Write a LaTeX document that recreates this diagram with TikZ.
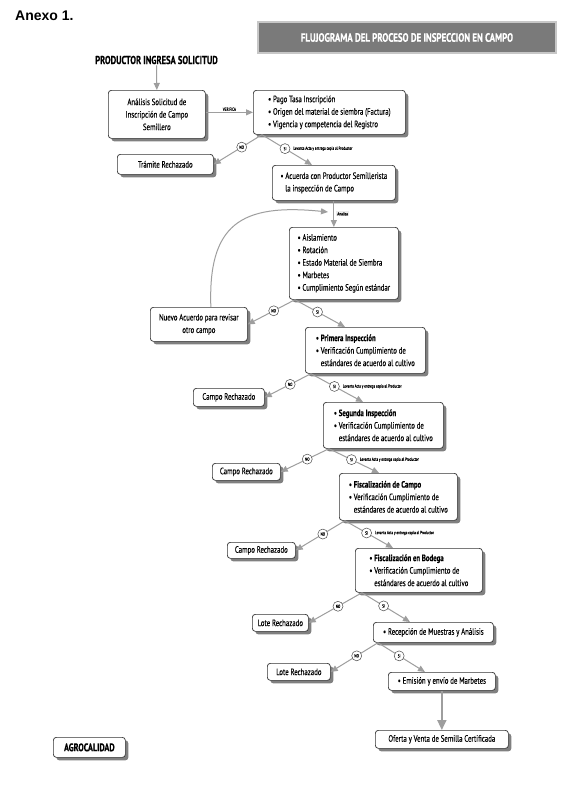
\documentclass[tikz,border=0pt]{standalone}
\usepackage{fontspec}
\usetikzlibrary{arrows.meta}
\newfontfamily\cf{PT Sans}[FakeStretch=0.74, UprightFeatures={FakeBold=0.15}, BoldFeatures={FakeBold=0.4}]
\newfontfamily\arialf{Liberation Sans}
\newcommand{\boxfnt}{\cf\fontsize{9.2}{12.5}\selectfont}
\newcommand{\tinyfnt}{\cf\fontsize{4.5}{5}\selectfont}
\newcommand{\hdrfnt}{\cf\bfseries\fontsize{12}{14}\selectfont}
\newcommand{\bulit}{\textbullet\ }
\newcommand{\hangind}{\hphantom{\textbullet\ }}
\tikzset{
  box/.style={draw=black!80, line width=0.7pt, rounded corners=3pt, fill=white,
    preaction={draw=none, fill=black!50, transform canvas={xshift=3pt, yshift=-3pt}},
    font=\boxfnt, inner xsep=3pt, inner ysep=1pt, anchor=north west},
  arr/.style={draw=black!38, line width=1pt, -{Triangle[length=7pt,width=6pt]}},
  circ/.style={circle, draw=black!70, fill=white, line width=0.5pt, inner sep=0pt,
    minimum size=10pt, font=\tinyfnt},
  note/.style={font=\tinyfnt, anchor=west, inner sep=1pt},
}
\begin{document}
\begin{tikzpicture}[x=1pt,y=-1pt]
\useasboundingbox[fill=white] (0,0) rectangle (578,804);

\node[anchor=west, font=\arialf\bfseries\fontsize{14}{16}\selectfont, inner sep=0pt] (anexo) at (15,16) {Anexo 1.};

\node[fill=black!52, draw=black!22, line width=1.2pt, minimum width=298pt, minimum height=31pt,
  text=white, font=\hdrfnt] (hdr) at (407,37.5) {FLUJOGRAMA DEL PROCESO DE INSPECCION EN CAMPO};

\node[font=\cf\bfseries\fontsize{11.5}{13}\selectfont, inner sep=1pt] (prod) at (156.5,60) {PRODUCTOR INGRESA SOLICITUD};

% boxes
\node[box, minimum width=97pt, minimum height=48pt, align=center] (b1) at (108,90)
  {Análisis Solicitud de\\Inscripción de Campo\\Semillero};
\node[box, minimum width=152pt, minimum height=44pt, align=left] (b2) at (253,90)
  {\bulit Pago Tasa Inscripción\\\bulit Origen del material de siembra (Factura)\\\bulit Vigencia y competencia del Registro};
\node[box, minimum width=96pt, minimum height=20pt] (rej1) at (117,154) {Trámite Rechazado};
\node[box, minimum width=123pt, minimum height=35pt, align=left] (b3) at (272,165)
  {\bulit Acuerda con Productor Semillerista\\\hangind la inspección de Campo};
\node[box, minimum width=109pt, minimum height=72pt, align=left] (b4) at (289,227)
  {\bulit Aislamiento\\\bulit Rotación\\\bulit Estado Material de Siembra\\\bulit Marbetes\\\bulit Cumplimiento Según estándar};
\node[box, minimum width=97pt, minimum height=34pt, align=center] (nuevo) at (150,307)
  {Nuevo Acuerdo para revisar\\otro campo};
\node[box, minimum width=120pt, minimum height=46pt, align=left] (b5) at (305,327)
  {\bulit\textbf{Primera Inspección}\\\bulit Verificación Cumplimiento de\\\hangind estándares de acuerdo al cultivo};
\node[box, minimum width=71pt, minimum height=18pt] (rej2) at (193,388) {Campo Rechazado};
\node[box, minimum width=120pt, minimum height=46pt, align=left] (b6) at (323,402)
  {\bulit\textbf{Segunda Inspección}\\\bulit Verificación Cumplimiento de\\\hangind estándares de acuerdo al cultivo};
\node[box, minimum width=68pt, minimum height=17pt] (rej3) at (212,463) {Campo Rechazado};
\node[box, minimum width=118pt, minimum height=47pt, align=left] (b7) at (339,473)
  {\bulit\textbf{Fiscalización de Campo}\\\bulit Verificación Cumplimiento de\\\hangind estándares de acuerdo al cultivo};
\node[box, minimum width=68pt, minimum height=16pt] (rej4) at (227,542) {Campo Rechazado};
\node[box, minimum width=127pt, minimum height=44pt, align=left] (b8) at (355,548)
  {\bulit\textbf{Fiscalización en Bodega}\\\bulit Verificación Cumplimiento de\\\hangind estándares de acuerdo al cultivo};
\node[box, minimum width=56pt, minimum height=17pt] (rej5) at (252,614) {Lote Rechazado};
\node[box, minimum width=120pt, minimum height=20pt] (b9) at (373,622) {\bulit Recepción de Muestras y Análisis};
\node[box, minimum width=63pt, minimum height=17pt] (rej6) at (267,663) {Lote Rechazado};
\node[box, minimum width=107pt, minimum height=18pt] (b10) at (388,672) {\bulit Emisión y envío de Marbetes};
\node[box, minimum width=133pt, minimum height=18pt] (b11) at (375,730) {Oferta y Venta de Semilla Certificada};
\node[box, minimum width=72pt, minimum height=20pt, font=\cf\bfseries\fontsize{11}{12}\selectfont] (agro) at (53,737) {AGROCALIDAD};

% connectors
\draw[arr] (prod.south) -- (b1.north);
\draw[arr] (b1.east |- b2.west) -- (b2.west) node[midway, above=0pt, font=\tinyfnt, inner sep=1pt] {VERIFICA};

\draw[arr] ([xshift=9pt]b2.south west) -- (rej1.east) node[circ,pos=0.42] {NO};
\draw[arr] ([xshift=9pt]b2.south west) -- ([xshift=40pt]b3.north west) node[circ,pos=0.46] (s1) {SI};
\node[note] at ([xshift=2pt]s1.east) {Levanta Acta y entrega copia al Productor};

\draw[arr] (b3.south) -- (b3.south |- b4.north) node[midway, right=2pt, font=\tinyfnt, fill=black!8, inner sep=1pt] {Analiza};
\coordinate (loopend) at (328,212);
\draw[arr] ([xshift=12pt]nuevo.north) .. controls (208,225) and (240,203) .. (loopend);

\draw[arr] ([xshift=6pt]b4.south west) -- (nuevo.east) node[circ,pos=0.45] {NO};
\draw[arr] ([xshift=6pt]b4.south west) -- ([xshift=40pt]b5.north west) node[circ,pos=0.45] {SI};

\draw[arr] ([xshift=6pt]b5.south west) -- (rej2.east) node[circ,pos=0.45] {NO};
\draw[arr] ([xshift=6pt]b5.south west) -- ([xshift=40pt]b6.north west) node[circ,pos=0.45] (s3) {SI};
\node[note] at ([xshift=2pt]s3.east) {Levanta Acta y entrega copia al Productor};

\draw[arr] ([xshift=6pt]b6.south west) -- (rej3.east) node[circ,pos=0.45] {NO};
\draw[arr] ([xshift=6pt]b6.south west) -- ([xshift=40pt]b7.north west) node[circ,pos=0.45] (s4) {SI};
\node[note] at ([xshift=2pt]s4.east) {Levanta Acta y entrega copia al Productor};

\draw[arr] ([xshift=6pt]b7.south west) -- (rej4.east) node[circ,pos=0.45] {NO};
\draw[arr] ([xshift=6pt]b7.south west) -- ([xshift=38pt]b8.north west) node[circ,pos=0.45] (s5) {SI};
\node[note] at ([xshift=2pt]s5.east) {Levanta Acta y entrega copia al Productor};

\draw[arr] ([xshift=7pt]b8.south west) -- (rej5.east) node[circ,pos=0.45] {NO};
\draw[arr] ([xshift=7pt]b8.south west) -- ([xshift=37pt]b9.north west) node[circ,pos=0.45] {SI};

\draw[arr] ([xshift=5pt]b9.south west) -- (rej6.east) node[circ,pos=0.45] {NO};
\draw[arr] ([xshift=5pt]b9.south west) -- ([xshift=37pt]b10.north west) node[circ,pos=0.45] {SI};

\draw[arr, line width=2pt, -{Triangle[length=10pt,width=9pt]}] (b10.south) -- (b11.north);
\end{tikzpicture}
\end{document}
